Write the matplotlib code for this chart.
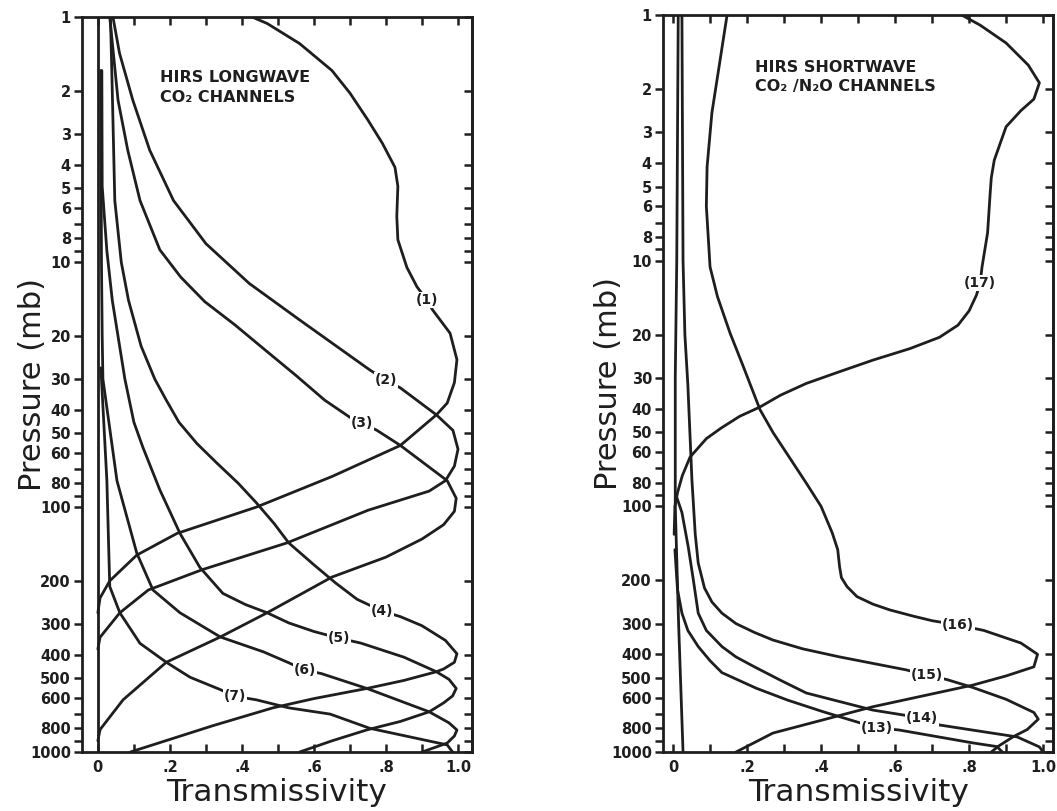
import matplotlib
matplotlib.use('Agg')
import matplotlib.pyplot as plt
from matplotlib.ticker import NullLocator

plt.rcParams['font.family'] = 'DejaVu Sans'

ink = '#1e1e1e'

# ---- left panel: HIRS longwave CO2 channels (transmissivity, pressure in mb)
ch1_t = [0.43, 0.47, 0.56, 0.65, 0.70, 0.75, 0.79, 0.825, 0.833, 0.83, 0.833, 0.858, 0.886, 0.914,
         0.93, 0.978, 0.997, 0.99, 0.97, 0.94, 0.84, 0.65, 0.44, 0.22, 0.108, 0.033, 0.006, 0.0]
ch1_p = [1.0, 1.06, 1.28, 1.65, 2.04, 2.63, 3.27, 4.1, 4.9, 6.5, 8.1, 10.5, 12.6, 14.3,
         15.7, 19.5, 25, 31, 37.6, 42, 56, 75, 100, 128, 157, 200, 235, 270]

ch2_t = [0.042, 0.06, 0.097, 0.144, 0.21, 0.30, 0.42, 0.56, 0.756, 0.80, 0.84, 0.94, 0.986, 1.0,
         0.99, 0.965, 0.92, 0.75, 0.525, 0.29, 0.14, 0.061, 0.006, 0.0]
ch2_p = [1.0, 1.4, 2.18, 3.49, 5.6, 8.4, 12.2, 17.2, 27.6, 30.3, 32.6, 42, 48.6, 58,
         68, 78, 86, 103, 140, 180, 218, 270, 340, 380]

ch3_t = [0.033, 0.045, 0.056, 0.083, 0.117, 0.172, 0.23, 0.297, 0.38, 0.464, 0.55, 0.63, 0.70,
         0.733, 0.775, 0.84, 0.97, 0.995, 0.99, 0.96, 0.90, 0.80, 0.65, 0.47, 0.34, 0.19, 0.07,
         0.006, 0.0]
ch3_p = [1.0, 1.5, 2.18, 3.49, 5.6, 8.9, 11.5, 14.5, 18, 22.8, 29, 36.6, 43,
         45.4, 48.6, 56, 78, 92, 104, 118, 135, 160, 193, 270, 339, 430, 612,
         810, 900]

ch4_t = [0.035, 0.04, 0.047, 0.065, 0.085, 0.12, 0.158, 0.19, 0.225, 0.275, 0.33, 0.39, 0.44,
         0.49, 0.53, 0.60, 0.66, 0.72, 0.79, 0.84, 0.90, 0.965, 0.997, 0.99, 0.96, 0.94, 0.85,
         0.747, 0.60, 0.486, 0.32, 0.09]
ch4_p = [1.0, 2.0, 5.6, 10, 14.3, 22, 30, 36.6, 45, 55, 66, 80, 96,
         117, 140, 172, 204, 238, 266, 280, 305, 350, 397, 430, 458, 470, 510,
         550, 605, 660, 780, 1000]

ch5_t = [0.011, 0.012, 0.025, 0.04, 0.075, 0.10, 0.125, 0.172, 0.228, 0.283, 0.347, 0.41, 0.47,
         0.53, 0.60, 0.67, 0.73, 0.85, 0.94, 0.975, 0.995, 0.985, 0.96, 0.92, 0.84, 0.747, 0.65,
         0.56]
ch5_p = [1.65, 4.9, 9, 14.3, 30, 45, 57, 85, 128, 176, 225, 250, 270,
         297, 322, 343, 359, 410, 470, 505, 550, 590, 630, 685, 750, 812, 900,
         1000]

ch6_t = [0.008, 0.01, 0.012, 0.014, 0.053, 0.108, 0.153, 0.228, 0.34, 0.46, 0.53, 0.575, 0.62,
         0.747, 0.92, 0.975, 0.997, 0.99, 0.97, 0.90]
ch6_p = [1.65, 10, 20, 30, 78, 154, 218, 270, 339, 390, 432, 463, 478,
         550, 685, 760, 813, 860, 919, 1000]

ch7_t = [0.008, 0.01, 0.025, 0.033, 0.061, 0.117, 0.19, 0.256, 0.34, 0.38, 0.44, 0.53, 0.645,
         0.755, 0.97, 0.985]
ch7_p = [27, 30, 78, 211, 270, 360, 430, 495, 556, 592, 612, 660, 700,
         800, 935, 1000]

zero_t = [0.0, 0.0]
zero_p = [1, 1000]

# ---- right panel: HIRS shortwave CO2/N2O channels
ch17_t = [0.78, 0.83, 0.90, 0.96, 0.99, 0.975, 0.94, 0.90, 0.885, 0.868, 0.86, 0.857, 0.85, 0.835,
          0.83, 0.82, 0.80, 0.77, 0.72, 0.64, 0.54, 0.45, 0.36, 0.29, 0.235, 0.18, 0.13, 0.09,
          0.046, 0.025, 0.012, 0.005, 0.003]
ch17_p = [1.0, 1.1, 1.3, 1.6, 1.89, 2.2, 2.45, 2.85, 3.3, 3.9, 4.6, 5.3, 7.7, 10.6,
          12.3, 13.8, 16, 18.3, 20.5, 22.8, 25.4, 28.3, 31.6, 35.3, 39.4, 43, 48, 53,
          63, 75, 88, 100, 130]

ch16_t = [0.146, 0.125, 0.105, 0.092, 0.09, 0.10, 0.12, 0.154, 0.19, 0.235, 0.27, 0.36, 0.40,
          0.43, 0.445, 0.45, 0.455, 0.47, 0.497, 0.54, 0.586, 0.65, 0.70, 0.77, 0.84, 0.94,
          0.985, 0.975, 0.90, 0.81, 0.54, 0.27, 0.17]
ch16_p = [1.0, 1.6, 2.5, 4.15, 6, 10.6, 14, 19.7, 27, 40.4, 50, 80.4, 100,
          128, 150, 176, 195, 212, 233, 250, 264, 280, 292, 304, 320, 360,
          400, 450, 490, 534, 654, 837, 1000]

ch15_t = [0.024, 0.027, 0.032, 0.04, 0.051, 0.06, 0.068, 0.085, 0.105, 0.132, 0.17, 0.22, 0.27,
          0.35, 0.45, 0.63, 0.686, 0.74, 0.81, 0.90, 0.975, 0.987, 0.957, 0.92, 0.88, 0.86]
ch15_p = [1.0, 10, 20, 32, 78, 130, 170, 215, 245, 272, 300, 326, 350,
          380, 410, 463, 486, 507, 546, 610, 690, 735, 810, 865, 945, 1000]

ch14_t = [0.008, 0.024, 0.041, 0.055, 0.068, 0.09, 0.132, 0.17, 0.22, 0.29, 0.36, 0.54, 0.673,
          0.72, 0.80, 0.93, 0.99, 1.0]
ch14_p = [90, 106, 146, 200, 272, 320, 372, 410, 450, 510, 575, 675, 727,
          776, 810, 868, 953, 1000]

ch13_t = [0.005, 0.012, 0.024, 0.04, 0.068, 0.10, 0.132, 0.225, 0.31, 0.405, 0.551, 0.61, 0.81,
          0.875, 0.89]
ch13_p = [150, 218, 272, 320, 372, 425, 475, 550, 615, 685, 798, 813, 918,
          950, 1000]

edge_t = [0.014, 0.01, 0.006, 0.006, 0.015, 0.027]
edge_p = [1, 10, 30, 100, 300, 1000]

p_ticks = [1, 2, 3, 4, 5, 6, 7, 8, 9, 10, 20, 30, 40, 50, 60, 70, 80, 90,
           100, 200, 300, 400, 500, 600, 700, 800, 900, 1000]
p_shown = [1, 2, 3, 4, 5, 6, 8, 10, 20, 30, 40, 50, 60, 80, 100,
           200, 300, 400, 500, 600, 800, 1000]
t_ticks = [0.0, 0.1, 0.2, 0.3, 0.4, 0.5, 0.6, 0.7, 0.8, 0.9, 1.0]
t_labels = ['0', '', '.2', '', '.4', '', '.6', '', '.8', '', '1.0']


def setup(ax, xlo, xhi, ylabelpad):
    ax.set_yscale('log')
    ax.set_ylim(1000, 1)
    ax.set_xlim(xlo, xhi)
    ax.set_yticks(p_ticks, [str(p) if p in p_shown else '' for p in p_ticks])
    ax.yaxis.set_minor_locator(NullLocator())
    ax.tick_params(axis='y', direction='out', length=6, width=1.8, labelsize=10.5, pad=2, colors=ink)
    ax.set_xticks(t_ticks, t_labels)
    ax.tick_params(axis='x', direction='in', top=True, length=6, width=1.8, labelsize=10.5,
                   pad=6, colors=ink)
    for lab in ax.get_yticklabels() + ax.get_xticklabels():
        lab.set_fontweight('bold')
    sec = ax.secondary_yaxis('right')
    sec.set_yticks(p_ticks)
    sec.set_yticklabels([])
    sec.yaxis.set_minor_locator(NullLocator())
    sec.tick_params(direction='in', length=6, width=1.8, colors=ink)
    sec.spines['right'].set_linewidth(2)
    sec.spines['right'].set_color(ink)
    for s in ax.spines.values():
        s.set_linewidth(2)
        s.set_color(ink)
    ax.set_ylabel('Pressure (mb)', fontsize=22, labelpad=ylabelpad, color=ink)
    ax.set_xlabel('Transmissivity', fontsize=22.5, labelpad=2, color=ink)


def chan_label(ax, x, p, txt):
    ax.text(x, p, txt, fontsize=10, fontweight='bold', ha='center', va='center', color=ink,
            zorder=5, bbox=dict(fc='white', ec='none', pad=0.6))


fig = plt.figure(figsize=(10.57, 8.11), dpi=100)
ax1 = fig.add_axes([0.0776, 0.0727, 0.369, 0.906])
ax2 = fig.add_axes([0.6273, 0.0727, 0.369, 0.9088])

setup(ax1, -0.044, 1.039, -12)
setup(ax2, -0.027, 1.027, -9)

for t, p in [(zero_t, zero_p), (ch1_t, ch1_p), (ch2_t, ch2_p), (ch3_t, ch3_p), (ch4_t, ch4_p),
             (ch5_t, ch5_p), (ch6_t, ch6_p), (ch7_t, ch7_p)]:
    ax1.plot(t, p, color=ink, lw=2, solid_capstyle='round', solid_joinstyle='round')

for t, p in [(edge_t, edge_p), (ch17_t, ch17_p), (ch16_t, ch16_p), (ch15_t, ch15_p),
             (ch14_t, ch14_p), (ch13_t, ch13_p)]:
    ax2.plot(t, p, color=ink, lw=2, solid_capstyle='round', solid_joinstyle='round')

chan_label(ax1, 0.914, 14.3, '(1)')
chan_label(ax1, 0.80, 30.3, '(2)')
chan_label(ax1, 0.733, 45.4, '(3)')
chan_label(ax1, 0.79, 266, '(4)')
chan_label(ax1, 0.67, 343, '(5)')
chan_label(ax1, 0.575, 463, '(6)')
chan_label(ax1, 0.38, 592, '(7)')

chan_label(ax2, 0.83, 12.3, '(17)')
chan_label(ax2, 0.77, 304, '(16)')
chan_label(ax2, 0.686, 486, '(15)')
chan_label(ax2, 0.673, 727, '(14)')
chan_label(ax2, 0.551, 798, '(13)')

hdr = dict(fontsize=11.5, fontweight='bold', color=ink, ha='left', va='center')
fig.text(160 / 1057, 1 - 78 / 811, 'HIRS LONGWAVE', **hdr)
fig.text(160 / 1057, 1 - 98 / 811, 'CO\u2082 CHANNELS', **hdr)
fig.text(755 / 1057, 1 - 68 / 811, 'HIRS SHORTWAVE', **hdr)
fig.text(755 / 1057, 1 - 86 / 811, 'CO\u2082 /N\u2082O CHANNELS', **hdr)

fig.savefig('out.png', dpi=100, facecolor='white')
